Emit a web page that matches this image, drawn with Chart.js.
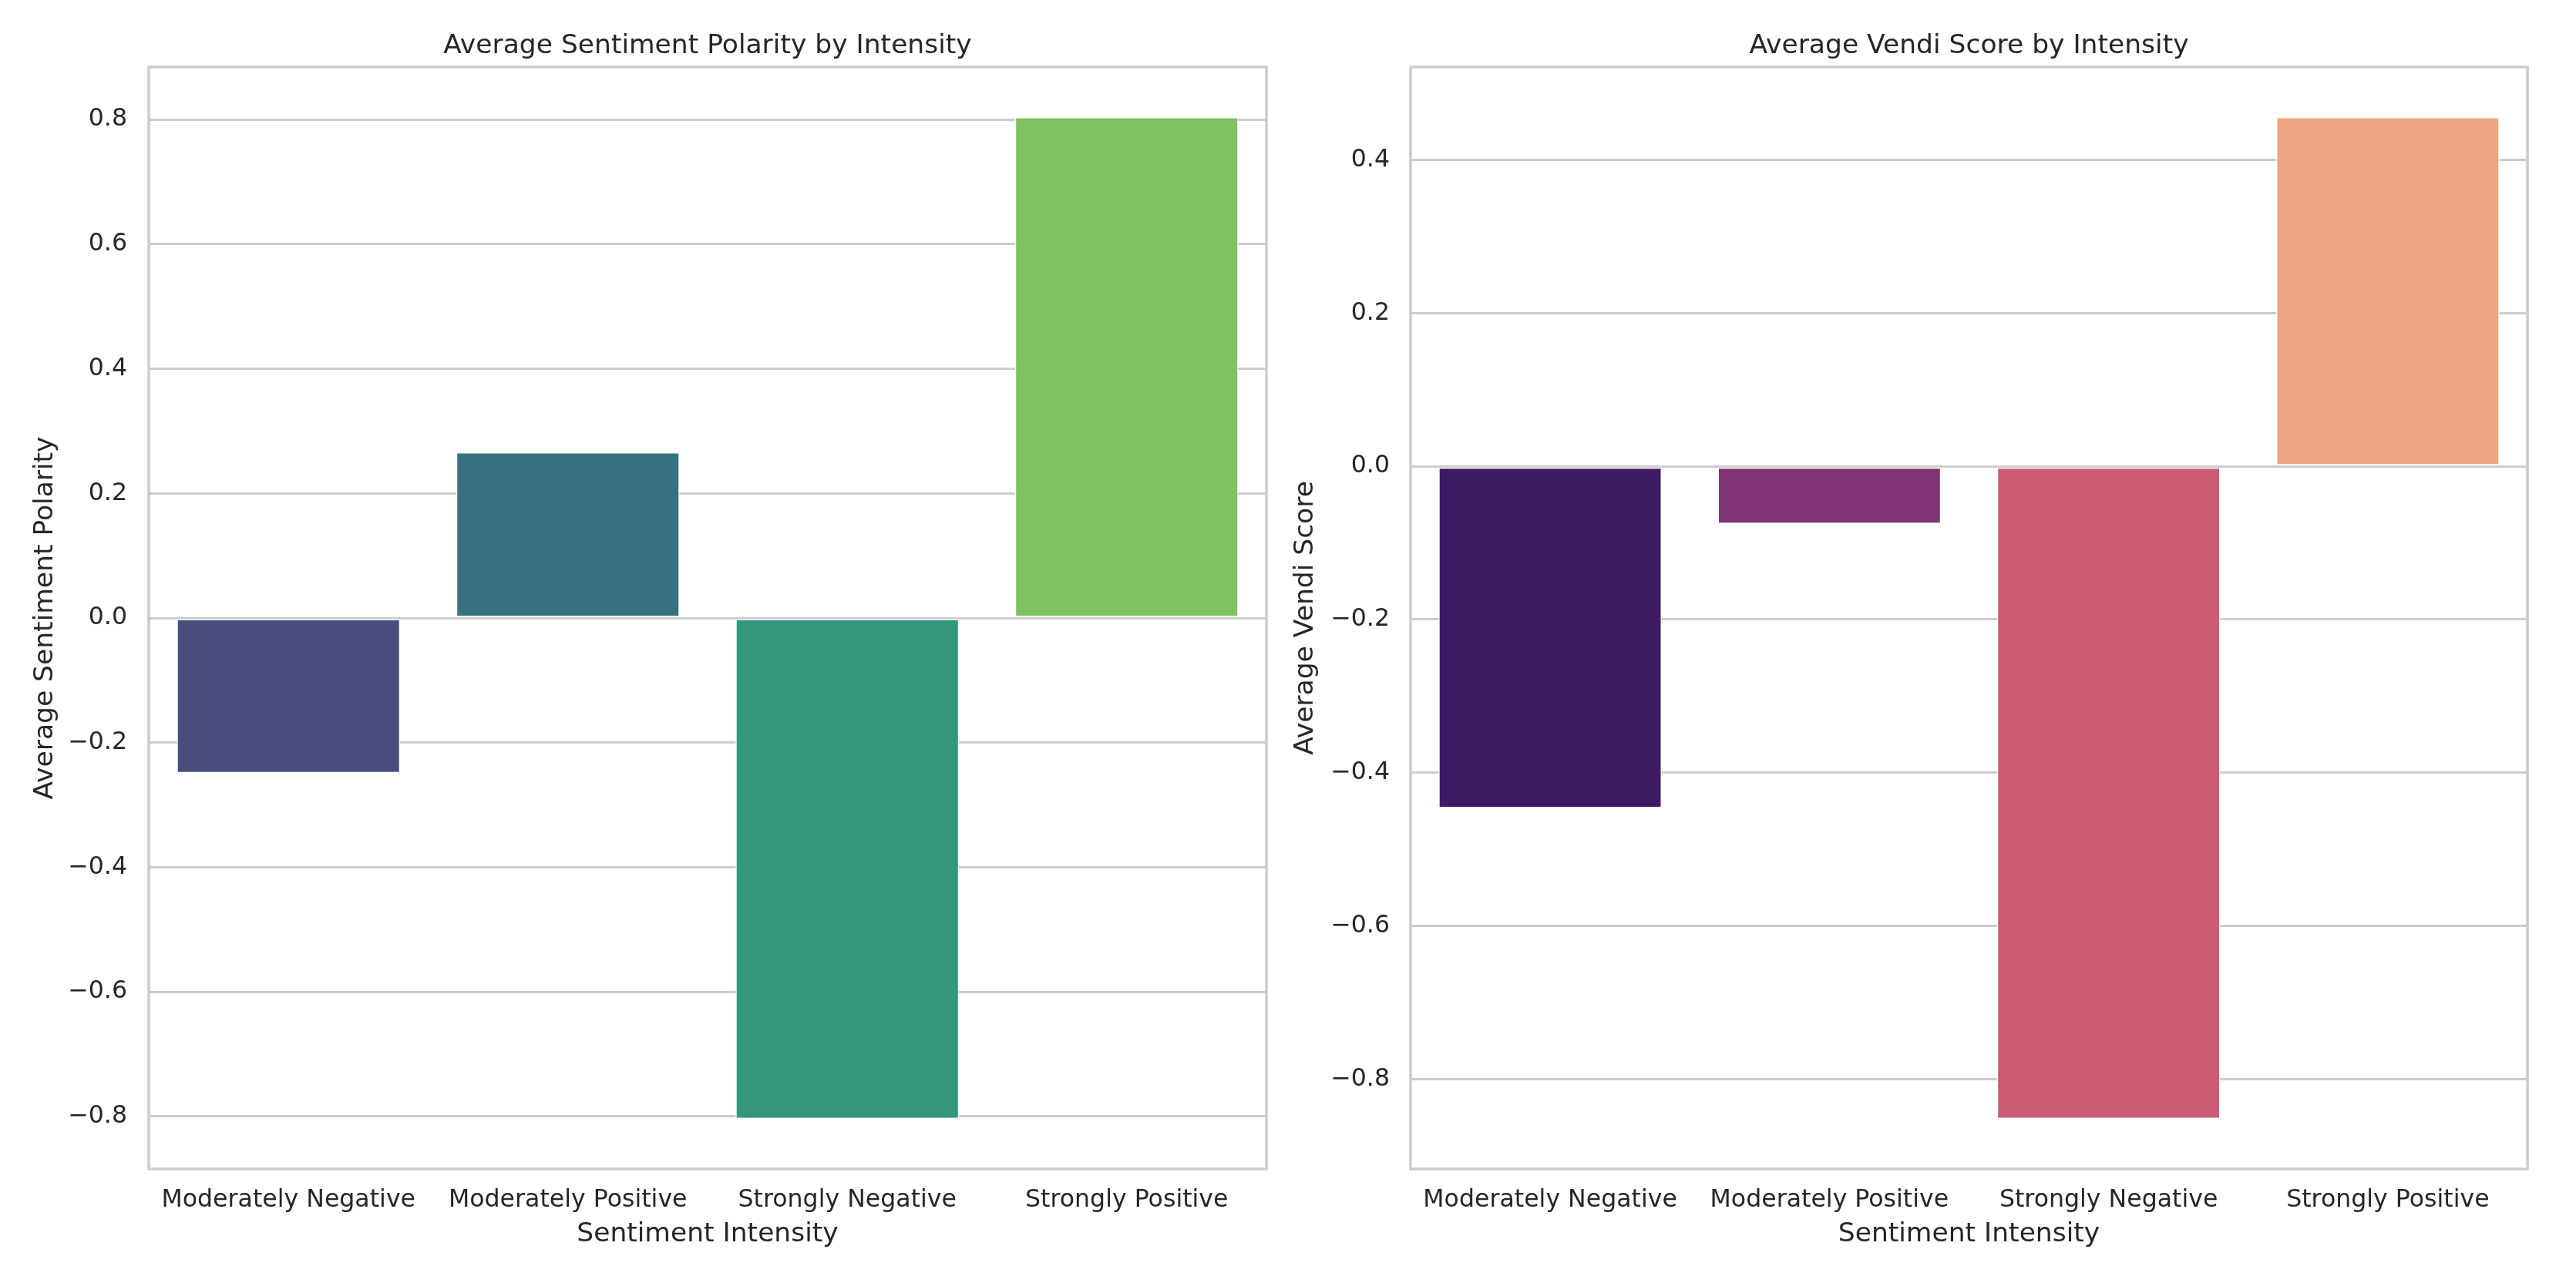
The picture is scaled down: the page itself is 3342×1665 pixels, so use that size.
<!DOCTYPE html>
<html>
<head>
<meta charset="utf-8">
<script src="https://cdn.jsdelivr.net/npm/chart.js@4"></script>
<style>
  html, body { margin: 0; padding: 0; background: #ffffff; overflow: hidden; }
  body { width: 3342px; height: 1665px; position: relative; }
  canvas { position: absolute; top: 0; }
  #c1 { left: 0px; }
  #c2 { left: 1670px; }
</style>
</head>
<body>
<canvas id="c1" width="1670" height="1665" style="width:1670px;height:1665px"></canvas>
<canvas id="c2" width="1672" height="1665" style="width:1672px;height:1665px"></canvas>
<script>
// ---- data ----
const categories = ['Moderately Negative', 'Moderately Positive', 'Strongly Negative', 'Strongly Positive'];
const polarityValues = [-0.249, 0.266, -0.804, 0.804];
const vendiValues = [-0.446, -0.075, -0.852, 0.456];
const polarityTicks = [-0.8, -0.6, -0.4, -0.2, 0.0, 0.2, 0.4, 0.6, 0.8];
const vendiTicks = [-0.8, -0.6, -0.4, -0.2, 0.0, 0.2, 0.4];
const viridisColors = ['#4a4c7e', '#377181', '#33977c', '#80c161'];
const magmaColors = ['#3c1b64', '#803577', '#cb5c73', '#eca57f'];

const FONT = '"DejaVu Sans", "Liberation Sans", sans-serif';
const TEXT = '#262626';
const GRID = '#cccccc';

const framePlugin = {
  id: 'frame',
  afterDraw(chart) {
    const a = chart.chartArea, ctx = chart.ctx;
    ctx.save();
    ctx.strokeStyle = GRID;
    ctx.lineWidth = 3.5;
    ctx.strokeRect(a.left, a.top, a.right - a.left, a.bottom - a.top);
    ctx.restore();
  }
};

function fmt(v) {
  return v.toFixed(1).replace('-', '\u2212');
}

function makeChart(id, opts) {
  const vals = opts.values;
  const lo = Math.min(0, ...vals), hi = Math.max(0, ...vals);
  const m = (hi - lo) * 0.05;
  return new Chart(document.getElementById(id), {
    type: 'bar',
    data: {
      labels: categories,
      datasets: [{
        data: vals,
        backgroundColor: opts.colors,
        borderColor: '#ffffff',
        borderWidth: 1.5,
        borderSkipped: false,
        categoryPercentage: 0.8,
        barPercentage: 1.0
      }]
    },
    options: {
      responsive: false,
      animation: false,
      devicePixelRatio: 1,
      layout: { padding: { left: 0, right: opts.padRight, top: 0, bottom: 0 } },
      plugins: {
        legend: { display: false },
        tooltip: { enabled: false },
        title: {
          display: true,
          text: opts.title,
          fullSize: false,
          color: TEXT,
          font: { family: FONT, size: 34.5, weight: 'normal' },
          padding: { top: 39.3, bottom: 6.3 }
        }
      },
      scales: {
        x: {
          offset: true,
          grid: { display: false, drawTicks: false },
          border: { display: false },
          ticks: {
            color: TEXT,
            font: { family: FONT, size: 31.6 },
            padding: 21.6,
            maxRotation: 0,
            minRotation: 0,
            autoSkip: false
          },
          title: {
            display: true,
            text: 'Sentiment Intensity',
            color: TEXT,
            font: { family: FONT, size: 34.5 },
            padding: { top: 0, bottom: 42.7 }
          },
          afterFit(s) { s.height = 148; }
        },
        y: {
          min: lo - m,
          max: hi + m,
          grid: { color: GRID, lineWidth: 3, drawTicks: false },
          border: { display: false },
          afterBuildTicks(s) { s.ticks = opts.ticks.map(v => ({ value: v })); },
          ticks: {
            color: TEXT,
            font: { family: FONT, size: 31.6 },
            padding: opts.tickPad,
            callback: v => fmt(v)
          },
          title: {
            display: true,
            text: opts.yTitle,
            color: TEXT,
            font: { family: FONT, size: 34.5 },
            padding: { top: opts.yTitlePad, bottom: 0 }
          },
          afterFit(s) { s.width = opts.yWidth; }
        }
      }
    },
    plugins: [framePlugin]
  });
}

makeChart('c1', {
  values: polarityValues,
  colors: viridisColors,
  ticks: polarityTicks,
  title: 'Average Sentiment Polarity by Intensity',
  yTitle: 'Average Sentiment Polarity',
  padRight: 27,
  yWidth: 193,
  tickPad: 28,
  yTitlePad: 38
});

makeChart('c2', {
  values: vendiValues,
  colors: magmaColors,
  ticks: vendiTicks,
  title: 'Average Vendi Score by Intensity',
  yTitle: 'Average Vendi Score',
  padRight: 63,
  yWidth: 160,
  tickPad: 27,
  yTitlePad: 3.5
});
</script>
</body>
</html>
